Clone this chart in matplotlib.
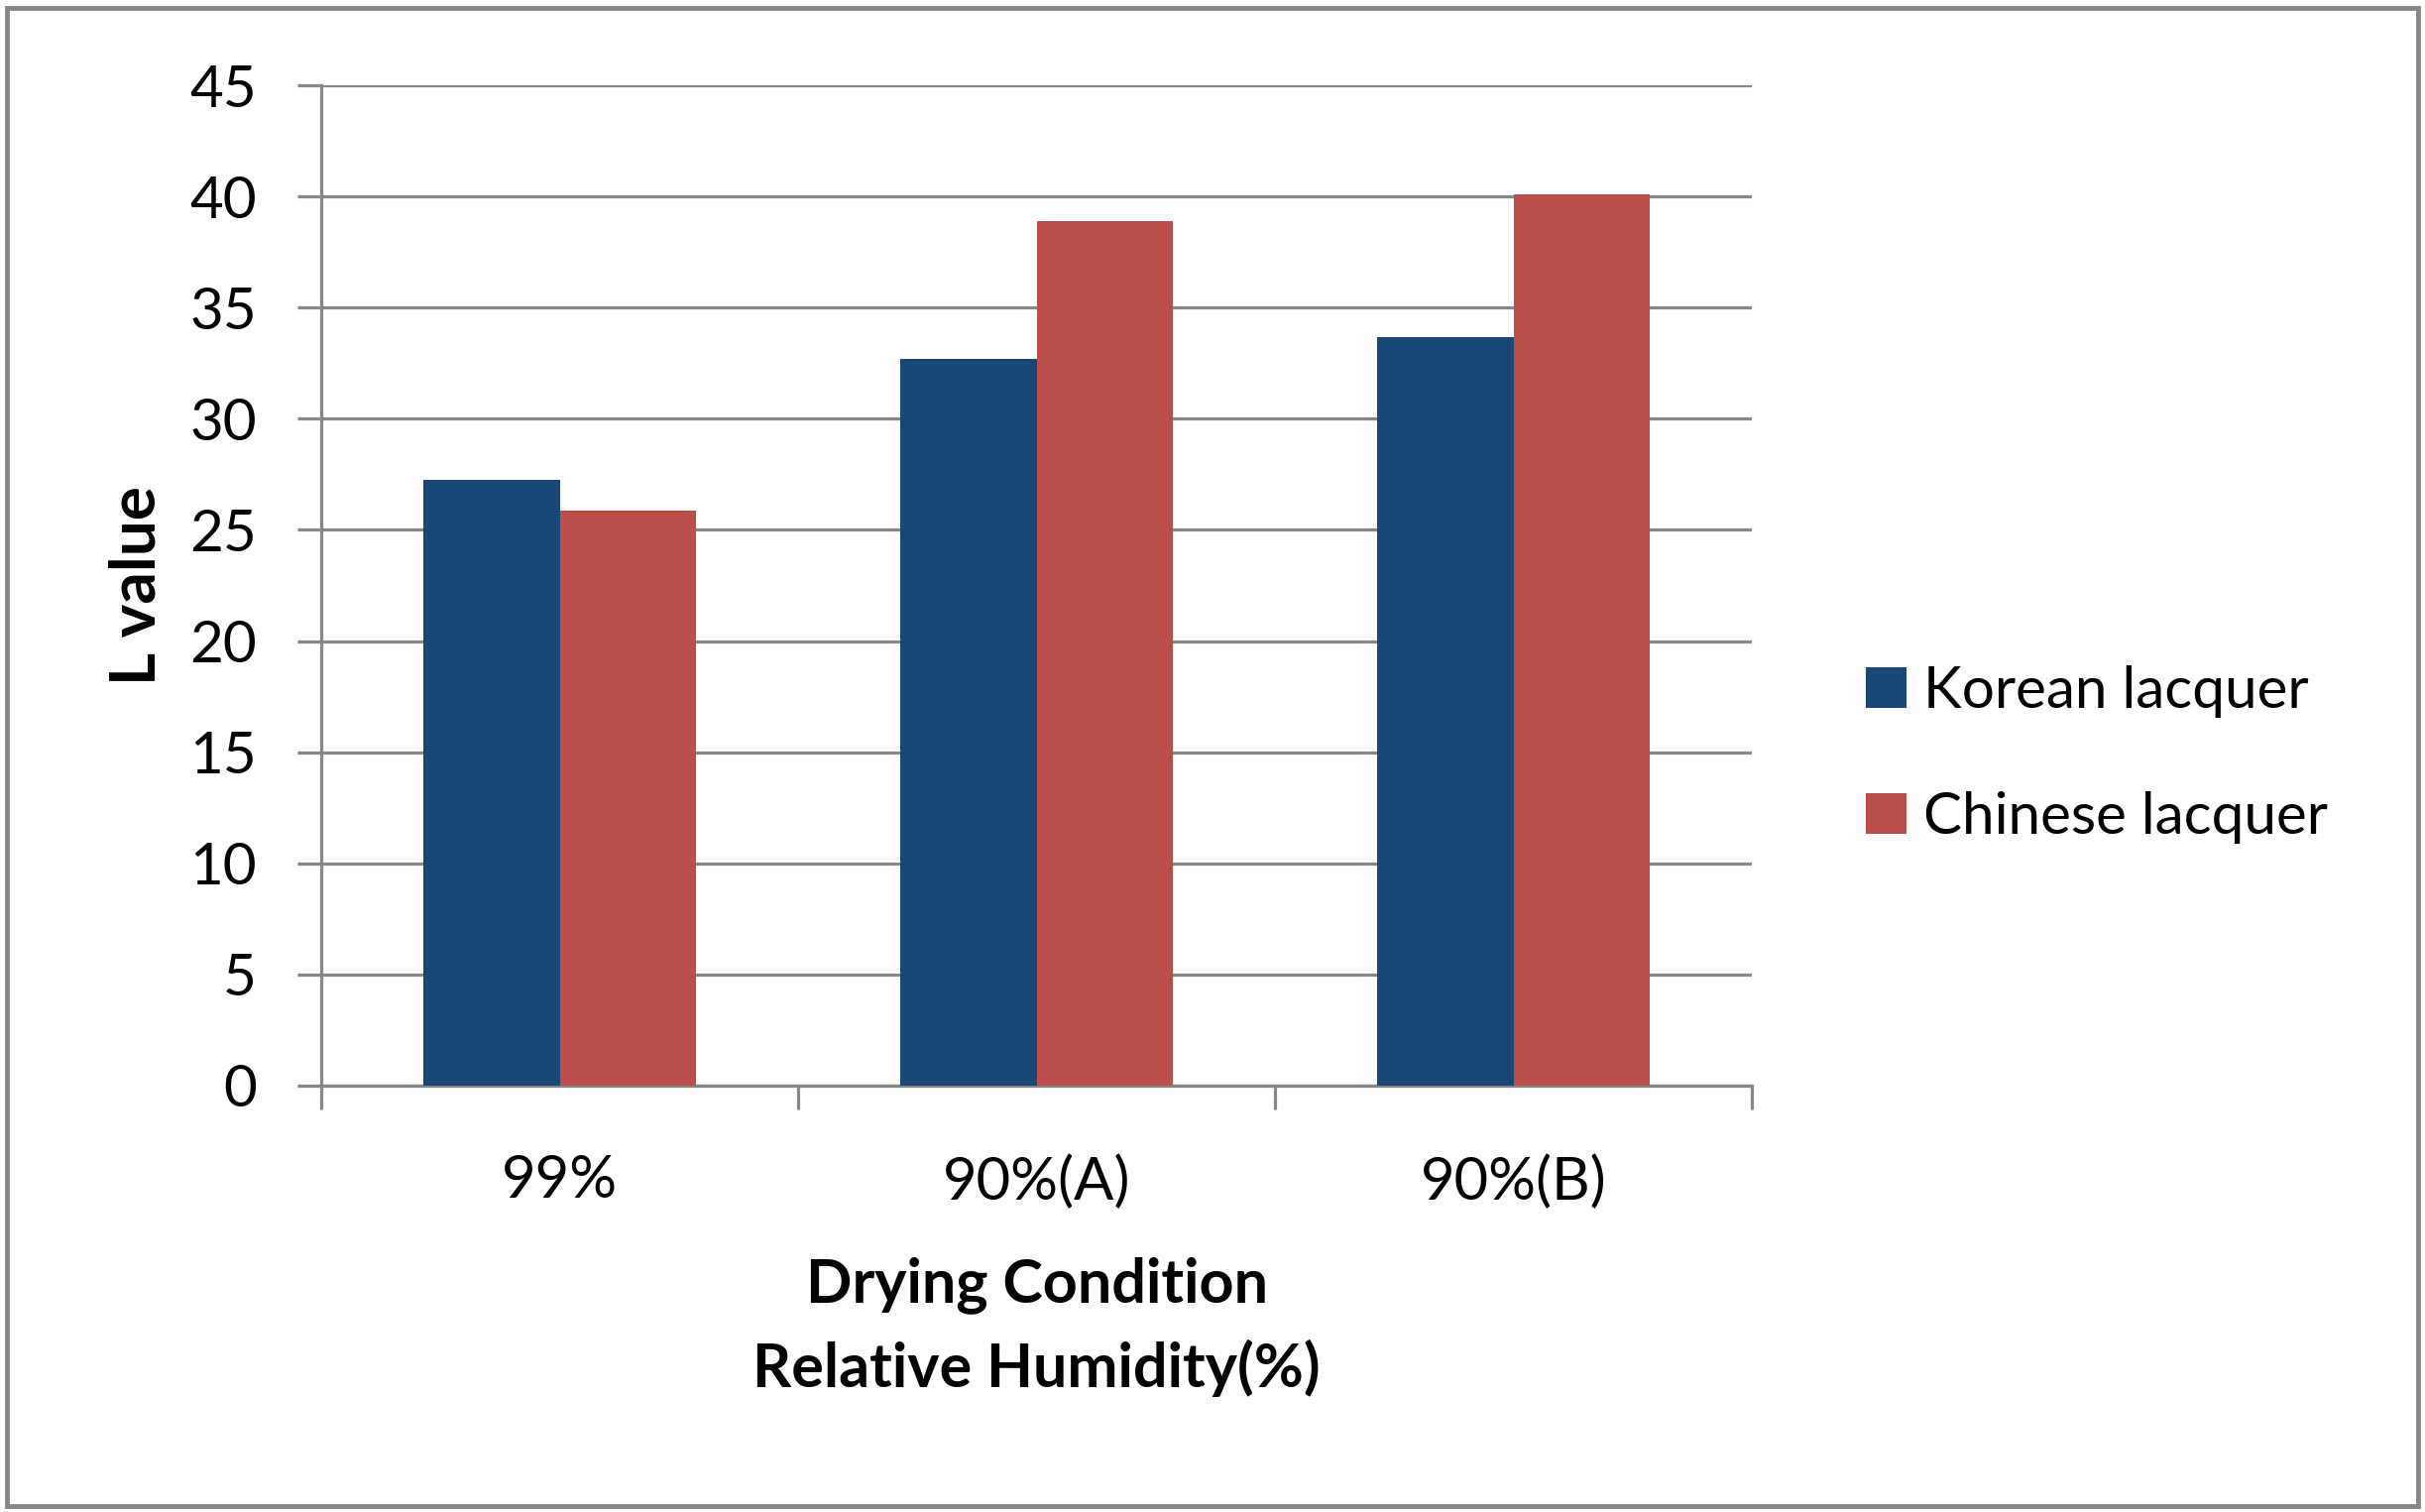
import numpy as np
import matplotlib.pyplot as plt
from matplotlib.patches import Rectangle

plt.rcParams['font.family'] = ['Lato', 'DejaVu Sans']

# data
conditions = ['99%', '90%(A)', '90%(B)']
korean = [27.25, 32.7, 33.65]
chinese = [25.85, 38.9, 40.1]
yticks = [0, 5, 10, 15, 20, 25, 30, 35, 40, 45]

c_kor = '#1B4777'
c_chn = '#BC4F4C'
grey = '#878787'

fig = plt.figure(figsize=(24.46, 15.25), dpi=100)
ax = fig.add_axes([0.1325, 0.282, 0.590, 0.6616])

x = np.arange(len(conditions))
w = 0.286
ax.bar(x - w / 2, korean, w, color=c_kor, label='Korean lacquer', zorder=3)
ax.bar(x + w / 2, chinese, w, color=c_chn, label='Chinese lacquer', zorder=3)

ax.set_xlim(-0.5, 2.5)
ax.set_ylim(0, 45)
ax.set_yticks(yticks)
ax.yaxis.grid(True, color=grey, linewidth=2.3, zorder=0)
ax.set_axisbelow(True)

for s in ['top', 'right']:
    ax.spines[s].set_visible(False)
for s in ['left', 'bottom']:
    ax.spines[s].set_color(grey)
    ax.spines[s].set_linewidth(2.3)

ax.tick_params(axis='y', length=17, width=2.3, color=grey, pad=30, labelsize=42)
# category labels in the middle, tick marks on the boundaries
ax.set_xticks(x)
ax.set_xticklabels(conditions)
ax.set_xticks(np.arange(-0.5, 3, 1), minor=True)
ax.tick_params(axis='x', which='major', length=0, pad=50, labelsize=43)
ax.tick_params(axis='x', which='minor', length=17, width=2.3, color=grey)

ax.set_xlabel('Drying Condition\nRelative Humidity(%)', fontsize=44,
              fontweight='bold', labelpad=34, linespacing=1.53)
ax.set_ylabel('L value', fontsize=46, fontweight='bold', labelpad=18)

fig.legend(loc='center left', bbox_to_anchor=(0.748, 0.501), frameon=False,
           fontsize=42, handlelength=0.7, handleheight=0.7,
           handletextpad=0.3, labelspacing=1.26)

# outer frame
fig.patches.append(Rectangle((0.003, 0.004), 0.994, 0.991, transform=fig.transFigure,
                             fill=False, edgecolor=grey, linewidth=3.5))

fig.savefig('out.png', dpi=100)
